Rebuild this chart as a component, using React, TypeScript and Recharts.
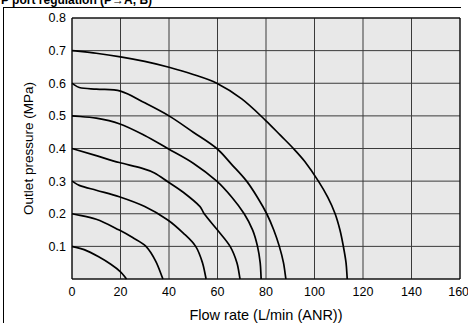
import { LineChart, Line, XAxis, YAxis, CartesianGrid, ReferenceArea } from 'recharts';

// flow (L/min ANR), outlet pressure (MPa)
const curve01 = [[0, 0.1], [5, 0.09], [11, 0.068], [16, 0.045], [20, 0.022], [22.5, 0]];
const curve02 = [[0, 0.2], [10, 0.183], [19.5, 0.15], [25, 0.127], [30.5, 0.1], [34.5, 0.055], [37.5, 0]];
const curve03 = [[0, 0.3], [3, 0.287], [10, 0.272], [19.5, 0.252], [30, 0.222], [39.5, 0.181], [46, 0.14], [51, 0.1], [53.8, 0.05], [55.3, 0]];
const curve04 = [[0, 0.4], [10, 0.378], [19.5, 0.357], [29, 0.339], [34, 0.325], [39.5, 0.298], [46, 0.265], [52.8, 0.222], [54.5, 0.2], [60, 0.15], [65.2, 0.1], [68, 0.05], [69.3, 0]];
const curve05 = [[0, 0.5], [10, 0.493], [19.5, 0.476], [30, 0.44], [39.5, 0.4], [50, 0.355], [59.7, 0.3], [66, 0.25], [71, 0.2], [74.5, 0.15], [76.5, 0.1], [77.6, 0.05], [78, 0]];
const curve06 = [[0, 0.6], [3, 0.587], [10, 0.582], [20, 0.576], [30, 0.54], [40, 0.5], [50, 0.45], [59.7, 0.4], [66, 0.35], [72, 0.3], [76.5, 0.25], [80.3, 0.2], [83.2, 0.15], [85.5, 0.1], [87.2, 0.05], [88.2, 0]];
const curve07 = [[0, 0.7], [10, 0.692], [20, 0.681], [30, 0.667], [40, 0.649], [50, 0.627], [59.7, 0.6], [70, 0.552], [80, 0.485], [86, 0.44], [91.3, 0.4], [96, 0.36], [101.6, 0.3], [105.5, 0.25], [108.5, 0.2], [110.5, 0.15], [111.9, 0.1], [113, 0.05], [113.5, 0]];

const xTicks = [0, 20, 40, 60, 80, 100, 120, 140, 160];
const yTicks = [0.1, 0.2, 0.3, 0.4, 0.5, 0.6, 0.7, 0.8];

const curves = [curve01, curve02, curve03, curve04, curve05, curve06, curve07];
const toRows = (pts: number[][]) => pts.map(([q, p]) => ({ q, p }));

const font = 'Liberation Sans, Arial, sans-serif';

// chord-length spline, so the near-vertical ends stay smooth
function smoothCurve(ctx: any) {
  let pts: number[][] = [];
  return {
    areaStart() {},
    areaEnd() {},
    lineStart() { pts = []; },
    point(x: number, y: number) { pts.push([+x, +y]); },
    lineEnd() {
      const n = pts.length;
      if (!n) return;
      ctx.moveTo(pts[0][0], pts[0][1]);
      if (n === 1) return;
      const len = (a: number[], b: number[]) => Math.hypot(b[0] - a[0], b[1] - a[1]) || 1e-6;
      const tan = pts.map((p, i) => {
        const a = pts[Math.max(i - 1, 0)];
        const b = pts[Math.min(i + 1, n - 1)];
        const d = (i > 0 ? len(a, p) : 0) + (i < n - 1 ? len(p, b) : 0);
        return [(b[0] - a[0]) / d, (b[1] - a[1]) / d];
      });
      for (let i = 0; i < n - 1; i++) {
        const p = pts[i];
        const q = pts[i + 1];
        const L = len(p, q) / 3;
        ctx.bezierCurveTo(p[0] + tan[i][0] * L, p[1] + tan[i][1] * L, q[0] - tan[i + 1][0] * L, q[1] - tan[i + 1][1] * L, q[0], q[1]);
      }
    },
  };
}

export default function App() {
  return (
    <div style={{ position: 'absolute', left: 0, top: 0, width: 468, height: 323, overflow: 'hidden', background: '#fff', fontFamily: font }}>
      <div style={{ position: 'absolute', left: 1, top: -6, fontSize: 12, lineHeight: '12px', fontWeight: 'bold', whiteSpace: 'nowrap' }}>
        P port regulation (P→A, B)
      </div>
      <div style={{ position: 'absolute', left: 3, top: 7, width: 457, height: 340, borderTop: '1px solid #000', borderLeft: '1px solid #000' }} />
      <div style={{ position: 'absolute', left: 0, top: 0 }}>
        <LineChart width={468} height={323} margin={{ top: 18, right: 8, left: 0, bottom: 0 }}>
          <CartesianGrid fill="#e8e8e8" stroke="#3a3a3a" strokeWidth={1} />
          <XAxis
            dataKey="q"
            type="number"
            domain={[0, 160]}
            ticks={xTicks}
            height={44}
            axisLine={false}
            tickLine={false}
            tickSize={6}
            tickMargin={2}
            tick={{ fill: '#000', fontSize: 12.5, fontFamily: font }}
            label={{ value: 'Flow rate (L/min (ANR))', position: 'insideBottom', offset: 3, fill: '#000', fontSize: 14.5, fontFamily: font }}
          />
          <YAxis
            type="number"
            domain={[0, 0.8]}
            ticks={yTicks}
            width={72}
            axisLine={false}
            tickLine={false}
            tickSize={6}
            tickMargin={0}
            tick={{ fill: '#000', fontSize: 12.5, fontFamily: font }}
            label={{ value: 'Outlet pressure (MPa)', angle: -90, position: 'insideLeft', offset: 28, fill: '#000', fontSize: 13.5, fontFamily: font, style: { textAnchor: 'middle' } }}
          />
          <ReferenceArea x1={0} x2={160} y1={0} y2={0.8} fill="none" fillOpacity={0} stroke="#000" strokeWidth={1} ifOverflow="visible" />
          {curves.map((c, i) => (
            <Line
              key={i}
              data={toRows(c)}
              dataKey="p"
              type={smoothCurve as any}
              stroke="#000"
              strokeWidth={1.7}
              dot={false}
              activeDot={false}
              isAnimationActive={false}
            />
          ))}
        </LineChart>
      </div>
    </div>
  );
}
